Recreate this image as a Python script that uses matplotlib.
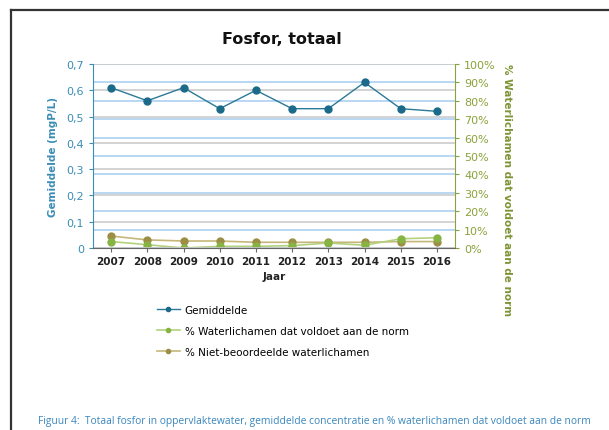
import matplotlib
matplotlib.use("Agg")
import matplotlib.pyplot as plt
from matplotlib.lines import Line2D
from matplotlib.ticker import MultipleLocator, FuncFormatter

# data
jaren = ['2007', '2008', '2009', '2010', '2011', '2012', '2013', '2014', '2015', '2016']
gemiddelde = [0.61, 0.56, 0.61, 0.53, 0.60, 0.53, 0.53, 0.63, 0.53, 0.52]
pct_voldoet = [3.5, 1.8, 0.0, 0.9, 0.9, 1.3, 2.7, 1.5, 5.0, 5.6]
pct_niet_beoordeeld = [6.5, 4.4, 3.8, 3.8, 3.1, 3.1, 3.1, 3.1, 3.5, 3.5]

plt.rcParams['font.family'] = ['DejaVu Sans']

c_blue = '#1b6a8a'
c_blue_txt = '#3b8db5'
c_green = '#86b443'
c_green_line = '#b3d27f'
c_brown = '#9c8e45'
c_brown_line = '#c5b77a'
c_olive_txt = '#8aa23a'

fig = plt.figure(figsize=(6.09, 4.31), dpi=100)
W, H = 609.0, 431.0
ax = fig.add_axes([93/W, 1-249/H, (455-93)/W, (249-65)/H])
ax2 = ax.twinx()

x = list(range(len(jaren)))

# right axis (percent) series
ax2.plot(x, pct_niet_beoordeeld, color=c_brown_line, lw=1.2, marker='o', ms=5,
         mfc=c_brown, mec=c_brown, zorder=3)
ax2.plot(x, pct_voldoet, color=c_green_line, lw=1.2, marker='o', ms=5,
         mfc=c_green, mec=c_green, zorder=3)
ax2.set_ylim(0, 100)
ax2.yaxis.set_major_locator(MultipleLocator(10))
ax2.yaxis.set_major_formatter(FuncFormatter(lambda v, p: '%d%%' % v))
ax2.yaxis.grid(True, color='#b3d3f2', lw=1.3)
ax2.set_axisbelow(True)

# left axis
ax.set_zorder(ax2.get_zorder() + 1)
ax.patch.set_visible(False)
ax.yaxis.grid(True, color='#cccccc', lw=1.2)
ax.plot(x, gemiddelde, color='#2a7a99', lw=1.0, marker='o', ms=5,
        mfc=c_blue, mec=c_blue, zorder=4)
ax.set_ylim(0, 0.7)
ax.set_xlim(-0.5, len(jaren) - 0.5)
ax.yaxis.set_major_locator(MultipleLocator(0.1))
ax.yaxis.set_major_formatter(FuncFormatter(lambda v, p: ('%.1f' % v).replace('.', ',') if v > 0 else '0'))
ax.set_xticks(x)
ax.set_xticklabels(jaren, fontsize=7.5, fontweight='bold', color='#222222')

for s in ['top']:
    ax.spines[s].set_visible(False)
    ax2.spines[s].set_visible(False)
ax.spines['right'].set_visible(False)
ax2.spines['left'].set_visible(False)
ax.spines['left'].set_color(c_blue_txt)
ax2.spines['right'].set_color(c_olive_txt)
ax.spines['bottom'].set_color('#666666')
ax2.spines['bottom'].set_visible(False)

ax.tick_params(axis='y', colors=c_blue_txt, labelsize=8, length=3, width=0.8)
ax.tick_params(axis='x', length=3, width=0.8, color='#666666', pad=3)
ax2.tick_params(axis='y', colors=c_olive_txt, labelsize=8, length=3, width=0.8)

ax.set_ylabel('Gemiddelde (mgP/L)', fontsize=7.5, fontweight='bold', color=c_blue_txt, labelpad=6)
ax.set_xlabel('Jaar', fontsize=7.5, fontweight='bold', color='#222222', labelpad=3)
fig.text(507/W, 1-190/H, '% Waterlichamen dat voldoet aan de norm', rotation=-90,
         ha='center', va='center', fontsize=7.5, fontweight='bold', color='#7f9433')

fig.text(282/W, 1-40/H, 'Fosfor, totaal', ha='center', va='center',
         fontsize=11.5, fontweight='bold', color='#111111')

# legend below the chart
handles = [
    Line2D([], [], color='#2a7a99', lw=1.0, marker='o', ms=3, mfc=c_blue, mec=c_blue),
    Line2D([], [], color=c_green_line, lw=1.2, marker='o', ms=3, mfc=c_green, mec=c_green),
    Line2D([], [], color=c_brown_line, lw=1.2, marker='o', ms=3, mfc=c_brown, mec=c_brown),
]
labels = ['Gemiddelde', '% Waterlichamen dat voldoet aan de norm', '% Niet-beoordeelde waterlichamen']
fig.legend(handles, labels, loc='upper left', bbox_to_anchor=(157/W, 1-306/H),
           frameon=False, fontsize=7.5, handlelength=2.2, handletextpad=0.45,
           labelspacing=1.05, borderaxespad=0, borderpad=0)

# caption
fig.text(38/W, 1-422/H,
         'Figuur 4:  Totaal fosfor in oppervlaktewater, gemiddelde concentratie en % waterlichamen dat voldoet aan de norm',
         ha='left', va='center', fontsize=7.4, color='#3a86bd', family='Open Sans')

# page frame
fig.add_artist(Line2D([11/W, 11/W], [0, 1-11/H], color='#333333', lw=1.6))
fig.add_artist(Line2D([11/W, 1], [1-11/H, 1-11/H], color='#333333', lw=1.6))

fig.savefig('out.png', dpi=100)
